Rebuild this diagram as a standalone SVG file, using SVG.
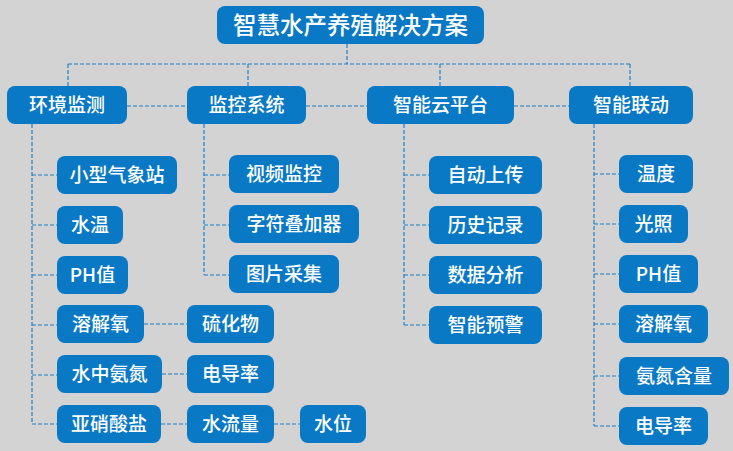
<svg xmlns="http://www.w3.org/2000/svg" width="733" height="451" viewBox="0 0 733 451">
<style>
.bg{fill:#d3d3d3}
.n rect{fill:#0a79c5}
.n text{fill:#ffffff;font-family:"Noto Sans CJK SC","Noto Sans",sans-serif;font-size:19px;text-anchor:middle;font-weight:500}
.t text{font-size:23.5px}
.c path{fill:none;stroke:#1f7fc6;stroke-width:1.2;stroke-dasharray:4 2}
</style>
<rect class="bg" x="0" y="0" width="733" height="451"/>
<g class="c" id="connectors">
<path d="M347 44V64M68 64H630M68 64V86M248 64V86M440 64V86M630 64V86"/>
<path d="M127 106H187M306 106H367M514 106H569"/>
<path d="M32 124V424M32 175H57M32 225H57M32 275H57M32 325H57M32 375H57M32 424H57"/>
<path d="M144 324H187M162 374H187M161 424H187M274 424H300"/>
<path d="M204 124V275M204 175H229M204 225H229M204 275H229"/>
<path d="M404 124V325M404 175H429M404 225H429M404 275H429M404 325H429"/>
<path d="M594 124V426M594 174H619M594 224H619M594 274H619M594 324H619M594 376H619M594 426H619"/>
</g>
<g class="n t" id="title"><rect x="217" y="6" width="267" height="38" rx="8"/><text x="350.5" y="34">智慧水产养殖解决方案</text></g>
<g class="n" id="n-env"><rect x="7" y="86" width="120" height="38" rx="8"/><text x="67" y="112">环境监测</text></g>
<g class="n" id="n-mon"><rect x="187" y="86" width="119" height="38" rx="8"/><text x="246.5" y="112">监控系统</text></g>
<g class="n" id="n-cloud"><rect x="367" y="86" width="147" height="38" rx="8"/><text x="440.5" y="112">智能云平台</text></g>
<g class="n" id="n-link"><rect x="569" y="86" width="124" height="38" rx="8"/><text x="631" y="112">智能联动</text></g>

<g class="n" id="e1"><rect x="57" y="156" width="120" height="38" rx="8"/><text x="117" y="182">小型气象站</text></g>
<g class="n" id="e2"><rect x="57" y="206" width="66" height="38" rx="8"/><text x="90" y="232">水温</text></g>
<g class="n" id="e3"><rect x="57" y="256" width="71" height="38" rx="8"/><text x="92.5" y="282">PH值</text></g>
<g class="n" id="e4"><rect x="57" y="305" width="87" height="38" rx="8"/><text x="100.5" y="331">溶解氧</text></g>
<g class="n" id="e5"><rect x="57" y="355" width="105" height="38" rx="8"/><text x="109.5" y="381">水中氨氮</text></g>
<g class="n" id="e6"><rect x="57" y="405" width="104" height="38" rx="8"/><text x="109" y="431">亚硝酸盐</text></g>
<g class="n" id="e7"><rect x="187" y="305" width="87" height="38" rx="8"/><text x="230.5" y="331">硫化物</text></g>
<g class="n" id="e8"><rect x="187" y="355" width="87" height="38" rx="8"/><text x="230.5" y="381">电导率</text></g>
<g class="n" id="e9"><rect x="187" y="405" width="87" height="38" rx="8"/><text x="230.5" y="431">水流量</text></g>
<g class="n" id="e10"><rect x="300" y="405" width="66" height="38" rx="8"/><text x="333" y="431">水位</text></g>

<g class="n" id="m1"><rect x="229" y="155" width="110" height="38" rx="8"/><text x="284" y="181">视频监控</text></g>
<g class="n" id="m2"><rect x="229" y="205" width="130" height="38" rx="8"/><text x="294" y="231">字符叠加器</text></g>
<g class="n" id="m3"><rect x="229" y="255" width="110" height="38" rx="8"/><text x="284" y="281">图片采集</text></g>

<g class="n" id="c1"><rect x="429" y="156" width="113" height="38" rx="8"/><text x="485.5" y="182">自动上传</text></g>
<g class="n" id="c2"><rect x="429" y="206" width="113" height="38" rx="8"/><text x="485.5" y="232">历史记录</text></g>
<g class="n" id="c3"><rect x="429" y="256" width="113" height="38" rx="8"/><text x="485.5" y="282">数据分析</text></g>
<g class="n" id="c4"><rect x="429" y="306" width="113" height="38" rx="8"/><text x="485.5" y="332">智能预警</text></g>

<g class="n" id="l1"><rect x="619" y="155" width="74" height="38" rx="8"/><text x="656" y="181">温度</text></g>
<g class="n" id="l2"><rect x="619" y="205" width="69" height="38" rx="8"/><text x="653.5" y="231">光照</text></g>
<g class="n" id="l3"><rect x="619" y="255" width="79" height="38" rx="8"/><text x="658.5" y="281">PH值</text></g>
<g class="n" id="l4"><rect x="619" y="305" width="89" height="38" rx="8"/><text x="663.5" y="331">溶解氧</text></g>
<g class="n" id="l5"><rect x="619" y="357" width="110" height="38" rx="8"/><text x="674" y="383">氨氮含量</text></g>
<g class="n" id="l6"><rect x="619" y="407" width="89" height="38" rx="8"/><text x="663.5" y="433">电导率</text></g>
</svg>
